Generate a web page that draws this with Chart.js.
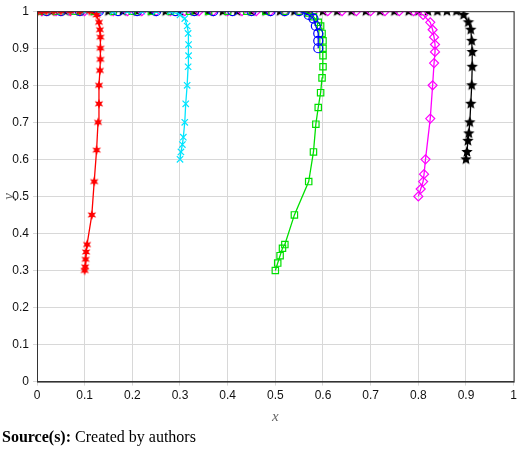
<!DOCTYPE html><html><head><meta charset="utf-8">
<script src="https://cdn.jsdelivr.net/npm/chart.js@4"></script>
<style>body{margin:0;background:#fff;width:520px;height:456px;overflow:hidden;position:relative}
#c{position:absolute;left:0;top:0}
#cap{position:absolute;left:2px;top:428px;font-family:"Liberation Serif",serif;font-size:16px;color:#000}</style></head><body>
<canvas id="c" width="520" height="430"></canvas>
<div id="cap"><b>Source(s):</b> Created by authors</div>
<script>
const redX=[0.10,0.101,0.102,0.103,0.105,0.115,0.12,0.125,0.128,0.13,0.13,0.132,0.133,0.133,0.133,0.132,0.13,0.125,0.11,0.09,0.07,0.05,0.035,0.02,0.01,0.003];
const redY=[0.30,0.31,0.33,0.35,0.37,0.45,0.54,0.625,0.70,0.75,0.80,0.84,0.87,0.90,0.93,0.95,0.97,0.99,1,1,1,1,1,1,1,1];
const cyanX=[0.30,0.302,0.305,0.307,0.31,0.312,0.315,0.317,0.318,0.318,0.317,0.315,0.31,0.30,0.28,0.25,0.22,0.19,0.16,0.13,0.10,0.07,0.05,0.03,0.01];
const cyanY=[0.60,0.62,0.64,0.66,0.70,0.75,0.80,0.85,0.88,0.91,0.94,0.96,0.98,0.99,1,1,1,1,1,1,1,1,1,1,1];
const blueX=[0.59,0.59,0.59,0.585,0.58,0.57,0.55,0.52,0.49,0.45,0.41,0.37,0.33,0.29,0.25,0.21,0.17,0.13,0.09,0.05,0.02];
const blueY=[0.90,0.92,0.94,0.96,0.98,0.99,1,1,1,1,1,1,1,1,1,1,1,1,1,1,1];
const greenX=[0.50,0.505,0.51,0.515,0.52,0.54,0.57,0.58,0.585,0.59,0.595,0.598,0.60,0.60,0.60,0.60,0.598,0.595,0.59,0.58,0.57,0.55,0.52,0.48,0.44,0.40,0.36,0.32,0.28,0.24,0.20,0.16,0.12,0.08,0.04,0.01];
const greenY=[0.30,0.32,0.34,0.36,0.37,0.45,0.54,0.62,0.695,0.74,0.78,0.82,0.85,0.88,0.90,0.92,0.94,0.96,0.97,0.985,0.995,1,1,1,1,1,1,1,1,1,1,1,1,1,1,1];
const magX=[0.80,0.805,0.81,0.812,0.815,0.825,0.83,0.833,0.835,0.835,0.833,0.83,0.825,0.81,0.79,0.76,0.73,0.70,0.67,0.64,0.61,0.58,0.55,0.52,0.49,0.46,0.43,0.40,0.37,0.34,0.31,0.28,0.25,0.22,0.19,0.16,0.13,0.10,0.07,0.04,0.01];
const magY=[0.50,0.52,0.54,0.56,0.60,0.71,0.80,0.86,0.89,0.91,0.93,0.95,0.97,0.99,1,1,1,1,1,1,1,1,1,1,1,1,1,1,1,1,1,1,1,1,1,1,1,1,1,1,1];
const blackX=[0.90,0.902,0.904,0.906,0.908,0.91,0.912,0.913,0.913,0.912,0.91,0.905,0.895,0.88,0.86,0.84,0.82,0.80,0.78,0.75,0.72,0.69,0.66,0.63,0.60,0.57,0.54,0.51,0.48,0.45,0.42,0.39,0.36,0.33,0.30,0.27,0.24,0.21,0.18,0.15,0.12,0.09,0.06,0.03,0.005];
const blackY=[0.60,0.62,0.65,0.67,0.70,0.75,0.80,0.85,0.89,0.92,0.95,0.97,0.99,1,1,1,1,1,1,1,1,1,1,1,1,1,1,1,1,1,1,1,1,1,1,1,1,1,1,1,1,1,1,1,1];
const ticks=[0,0.1,0.2,0.3,0.4,0.5,0.6,0.7,0.8,0.9,1];

function starImg(color,n,r){const c=document.createElement('canvas');c.width=c.height=2*r+2;const g=c.getContext('2d');g.fillStyle=color;g.beginPath();
for(let i=0;i<2*n;i++){const a=-Math.PI/2+i*Math.PI/n;const rr=i%2?r*0.45:r;g.lineTo(r+1+rr*Math.cos(a),r+1+rr*Math.sin(a));}g.closePath();g.fill();return c;}
const pts=(X,Y)=>X.map((x,i)=>({x,y:Y[i]}));
function ds(X,Y,color,style){return {data:pts(X,Y),borderColor:color,backgroundColor:'rgba(0,0,0,0)',pointBorderColor:color,pointBackgroundColor:'rgba(0,0,0,0)',pointStyle:style,pointRadius:4.5,borderWidth:1.3,pointBorderWidth:1.2,tension:0};}
const frame={id:'frame',afterDraw(c){const a=c.chartArea,g=c.ctx;g.save();g.strokeStyle='#333';g.lineWidth=1;g.strokeRect(a.left+0.5,a.top+0.5,a.right-a.left,a.bottom-a.top);g.restore();}};
new Chart(document.getElementById('c'),{type:'line',plugins:[frame],data:{datasets:[
ds(redX,redY,'#ff0000',starImg('#ff0000',6,5)),
ds(cyanX,cyanY,'#00e5ff','crossRot'),
ds(blueX,blueY,'#0000ff','circle'),
ds(greenX,greenY,'#00e000','rect'),
ds(magX,magY,'#ff00ff','rectRot'),
ds(blackX,blackY,'#000000',starImg('#000000',5,6))
]},options:{responsive:false,animation:false,layout:{padding:{top:9,right:5,left:0,bottom:0}},plugins:{legend:{display:false},tooltip:{enabled:false}},
scales:{x:{type:'linear',min:0,max:1,afterBuildTicks(s){s.ticks=ticks.map(v=>({value:v}));},grid:{color:'#d8d8d8',tickLength:4},border:{color:'#333'},
ticks:{color:'#111',font:{family:'Liberation Sans',size:12},maxRotation:0,padding:3,callback:v=>String(v)},title:{display:true,text:'x',font:{family:'Liberation Serif',size:15,style:'italic'},padding:{top:2}}},
y:{min:0,max:1,afterBuildTicks(s){s.ticks=ticks.map(v=>({value:v}));},afterFit(s){s.width=37;},grid:{color:'#d8d8d8',tickLength:4},border:{color:'#333'},
ticks:{color:'#111',font:{family:'Liberation Sans',size:12},padding:4,callback:v=>String(v)},title:{display:true,text:'y',font:{family:'Liberation Serif',size:15,style:'italic'},padding:0}}}}});
</script></body></html>
